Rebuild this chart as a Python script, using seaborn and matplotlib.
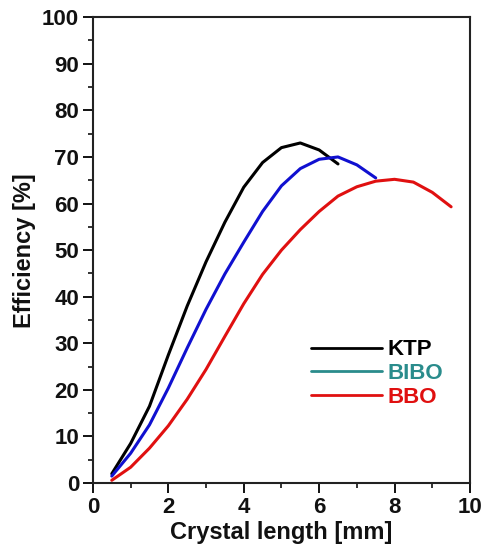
import seaborn as sns
import matplotlib.pyplot as plt
import pandas as pd
from matplotlib.lines import Line2D
from matplotlib.ticker import MultipleLocator

# valores
ktp_x = [0.5, 1, 1.5, 2, 2.5, 3, 3.5, 4, 4.5, 5, 5.5, 6, 6.5]
ktp_y = [2, 8.5, 16.5, 27.5, 38, 47.5, 56, 63.5, 68.8, 72, 73, 71.5, 68.5]

bibo_x = [0.5, 1, 1.5, 2, 2.5, 3, 3.5, 4, 4.5, 5, 5.5, 6, 6.5, 7, 7.5]
bibo_y = [1.5, 6.4, 12.5, 20.4, 29, 37.3, 44.9, 51.7, 58.3, 63.8, 67.5, 69.5, 70, 68.3, 65.5]

bbo_x = [0.5, 1, 1.5, 2, 2.5, 3, 3.5, 4, 4.5, 5, 5.5, 6, 6.5, 7, 7.5, 8, 8.5, 9, 9.5]
bbo_y = [0.6, 3.4, 7.5, 12.3, 18, 24.4, 31.5, 38.5, 44.8, 50, 54.4, 58.3, 61.6, 63.6, 64.8, 65.2, 64.6, 62.4, 59.3]

cristais = ['KTP', 'BIBO', 'BBO']
cores_linha = {'KTP': 'black', 'BIBO': '#1010d0', 'BBO': '#e01010'}
cores_legenda = ['black', '#2a8c8c', '#e01010']

df = pd.concat([
    pd.DataFrame({'comprimento': ktp_x, 'eficiencia': ktp_y, 'cristal': 'KTP'}),
    pd.DataFrame({'comprimento': bibo_x, 'eficiencia': bibo_y, 'cristal': 'BIBO'}),
    pd.DataFrame({'comprimento': bbo_x, 'eficiencia': bbo_y, 'cristal': 'BBO'}),
])

sns.set_style('ticks')
plt.rcParams['font.family'] = ['Liberation Sans', 'DejaVu Sans']
plt.rcParams['font.weight'] = 'bold'
plt.rcParams['text.color'] = '#111111'
plt.rcParams['axes.labelcolor'] = '#111111'
plt.rcParams['xtick.color'] = '#111111'
plt.rcParams['ytick.color'] = '#111111'

fig = plt.figure(figsize=(4.84, 5.54), dpi=100)
ax = fig.add_axes([0.192, 0.128, 0.779, 0.841])

sns.lineplot(data=df, x='comprimento', y='eficiencia', hue='cristal', hue_order=cristais,
             palette=cores_linha, linewidth=2.2, sort=False, legend=False, ax=ax)

ax.set_xlim(0, 10)
ax.set_ylim(0, 100)
ax.xaxis.set_major_locator(MultipleLocator(2))
ax.xaxis.set_minor_locator(MultipleLocator(1))
ax.yaxis.set_major_locator(MultipleLocator(10))
ax.yaxis.set_minor_locator(MultipleLocator(5))
ax.tick_params(which='major', length=7, width=1.4, labelsize=16, direction='out', pad=3)
ax.tick_params(which='minor', length=3.5, width=1.2, direction='out')
for s in ax.spines.values():
    s.set_linewidth(1.5)
    s.set_color('#222222')

ax.set_xlabel('Crystal length [mm]', fontsize=17, fontweight='bold', labelpad=2)
ax.set_ylabel('Efficiency [%]', fontsize=17, fontweight='bold', labelpad=4)

handles = [Line2D([0], [0], color=c, linewidth=2) for c in cores_legenda]
leg = ax.legend(handles, cristais, loc='center left', bbox_to_anchor=(0.525, 0.235),
                frameon=False, fontsize=16, handlelength=3.2, handletextpad=0.25,
                labelspacing=0.12)
for t, c in zip(leg.get_texts(), cores_legenda):
    t.set_color(c)
    t.set_fontweight('bold')

fig.savefig('out.png', dpi=100)
